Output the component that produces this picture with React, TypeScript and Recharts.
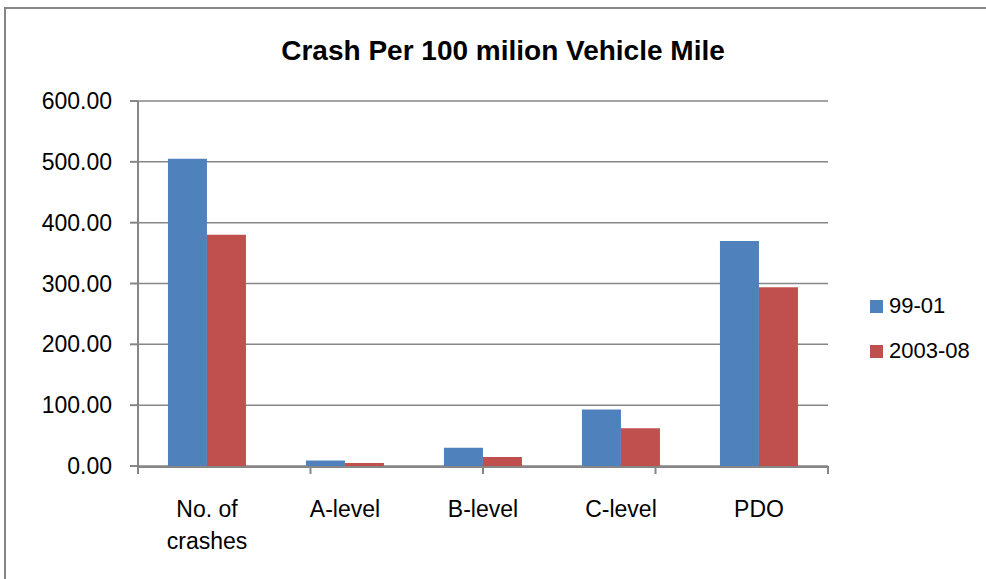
import React from "react";
import { BarChart, Bar, XAxis, YAxis, CartesianGrid } from "recharts";

const categories = ["No. of crashes", "A-level", "B-level", "C-level", "PDO"];
const series9901 = [505, 9, 30, 93, 370];
const series200308 = [380, 5, 15, 62, 294];
const yTicks = [0, 100, 200, 300, 400, 500, 600];
const boundaryTicks = [0, 1, 2, 3, 4, 5];
const seriesNames = ["99-01", "2003-08"];
const seriesColors = ["#4F81BD", "#C0504D"];

const data = categories.map((c, i) => ({
  name: c,
  a: series9901[i],
  b: series200308[i],
}));

const FONT = "'Liberation Sans', Arial, sans-serif";
const GRAY = "#868686";

const CatTick = (props: any) => {
  const { x, payload } = props;
  const words: string[] = payload.value === "No. of crashes" ? ["No. of", "crashes"] : [payload.value];
  return (
    <g>
      {words.map((w, i) => (
        <text
          key={i}
          x={x}
          y={517 + i * 32}
          textAnchor="middle"
          fontFamily={FONT}
          fontSize={23}
          fill="#000"
        >
          {w}
        </text>
      ))}
    </g>
  );
};

const EmptyTick = () => <g />;

export default function App() {
  return (
    <div style={{ position: "absolute", left: 0, top: 0, width: 986, height: 579, overflow: "hidden", background: "#fff" }}>
      <div
        style={{
          position: "absolute",
          left: 4,
          top: 7,
          width: 1100,
          height: 700,
          border: `2px solid ${GRAY}`,
          boxSizing: "border-box",
        }}
      />
      <div
        style={{
          position: "absolute",
          left: 0,
          top: 35,
          width: 1006,
          textAlign: "center",
          fontFamily: FONT,
          fontWeight: "bold",
          fontSize: 28,
          color: "#000",
          lineHeight: "32px",
        }}
      >
        Crash Per 100 milion Vehicle Mile
      </div>
      <div style={{ position: "absolute", left: 0, top: 0 }}>
        <BarChart
          width={986}
          height={579}
          data={data}
          margin={{ top: 101, right: 158, bottom: 111, left: 0 }}
          barCategoryGap="21.7%"
          barGap={0}
        >
          <CartesianGrid vertical={false} stroke={GRAY} strokeWidth={1.5} />
          <XAxis
            dataKey="name"
            xAxisId="cat"
            height={1}
            tickLine={false}
            tickSize={0}
            tickMargin={0}
            axisLine={{ stroke: GRAY, strokeWidth: 2 }}
            tick={<CatTick />}
            interval={0}
          />
          <XAxis
            xAxisId="bound"
            type="number"
            domain={[0, 5]}
            ticks={boundaryTicks}
            height={1}
            axisLine={false}
            tickLine={{ stroke: GRAY, strokeWidth: 2 }}
            tickSize={8}
            tick={<EmptyTick />}
            interval={0}
            allowDataOverflow
          />
          <YAxis
            width={138}
            domain={[0, 600]}
            ticks={yTicks}
            tickFormatter={(v: number) => v.toFixed(2)}
            axisLine={{ stroke: GRAY, strokeWidth: 2 }}
            tickLine={{ stroke: GRAY, strokeWidth: 2 }}
            tickSize={8}
            tickMargin={18}
            tick={{ fontFamily: FONT, fontSize: 23, fill: "#000" }}
            interval={0}
          />
          <Bar dataKey="a" xAxisId="cat" name={seriesNames[0]} fill={seriesColors[0]} isAnimationActive={false} />
          <Bar dataKey="b" xAxisId="cat" name={seriesNames[1]} fill={seriesColors[1]} isAnimationActive={false} />
        </BarChart>
      </div>
      {seriesNames.map((n, i) => (
        <div
          key={n}
          style={{
            position: "absolute",
            left: 870,
            top: 292 + i * 45,
            height: 28,
            display: "flex",
            alignItems: "center",
            fontFamily: FONT,
            fontSize: 22,
            color: "#000",
          }}
        >
          <span style={{ display: "inline-block", width: 13, height: 13, background: seriesColors[i], marginRight: 6 }} />
          {n}
        </div>
      ))}
    </div>
  );
}
